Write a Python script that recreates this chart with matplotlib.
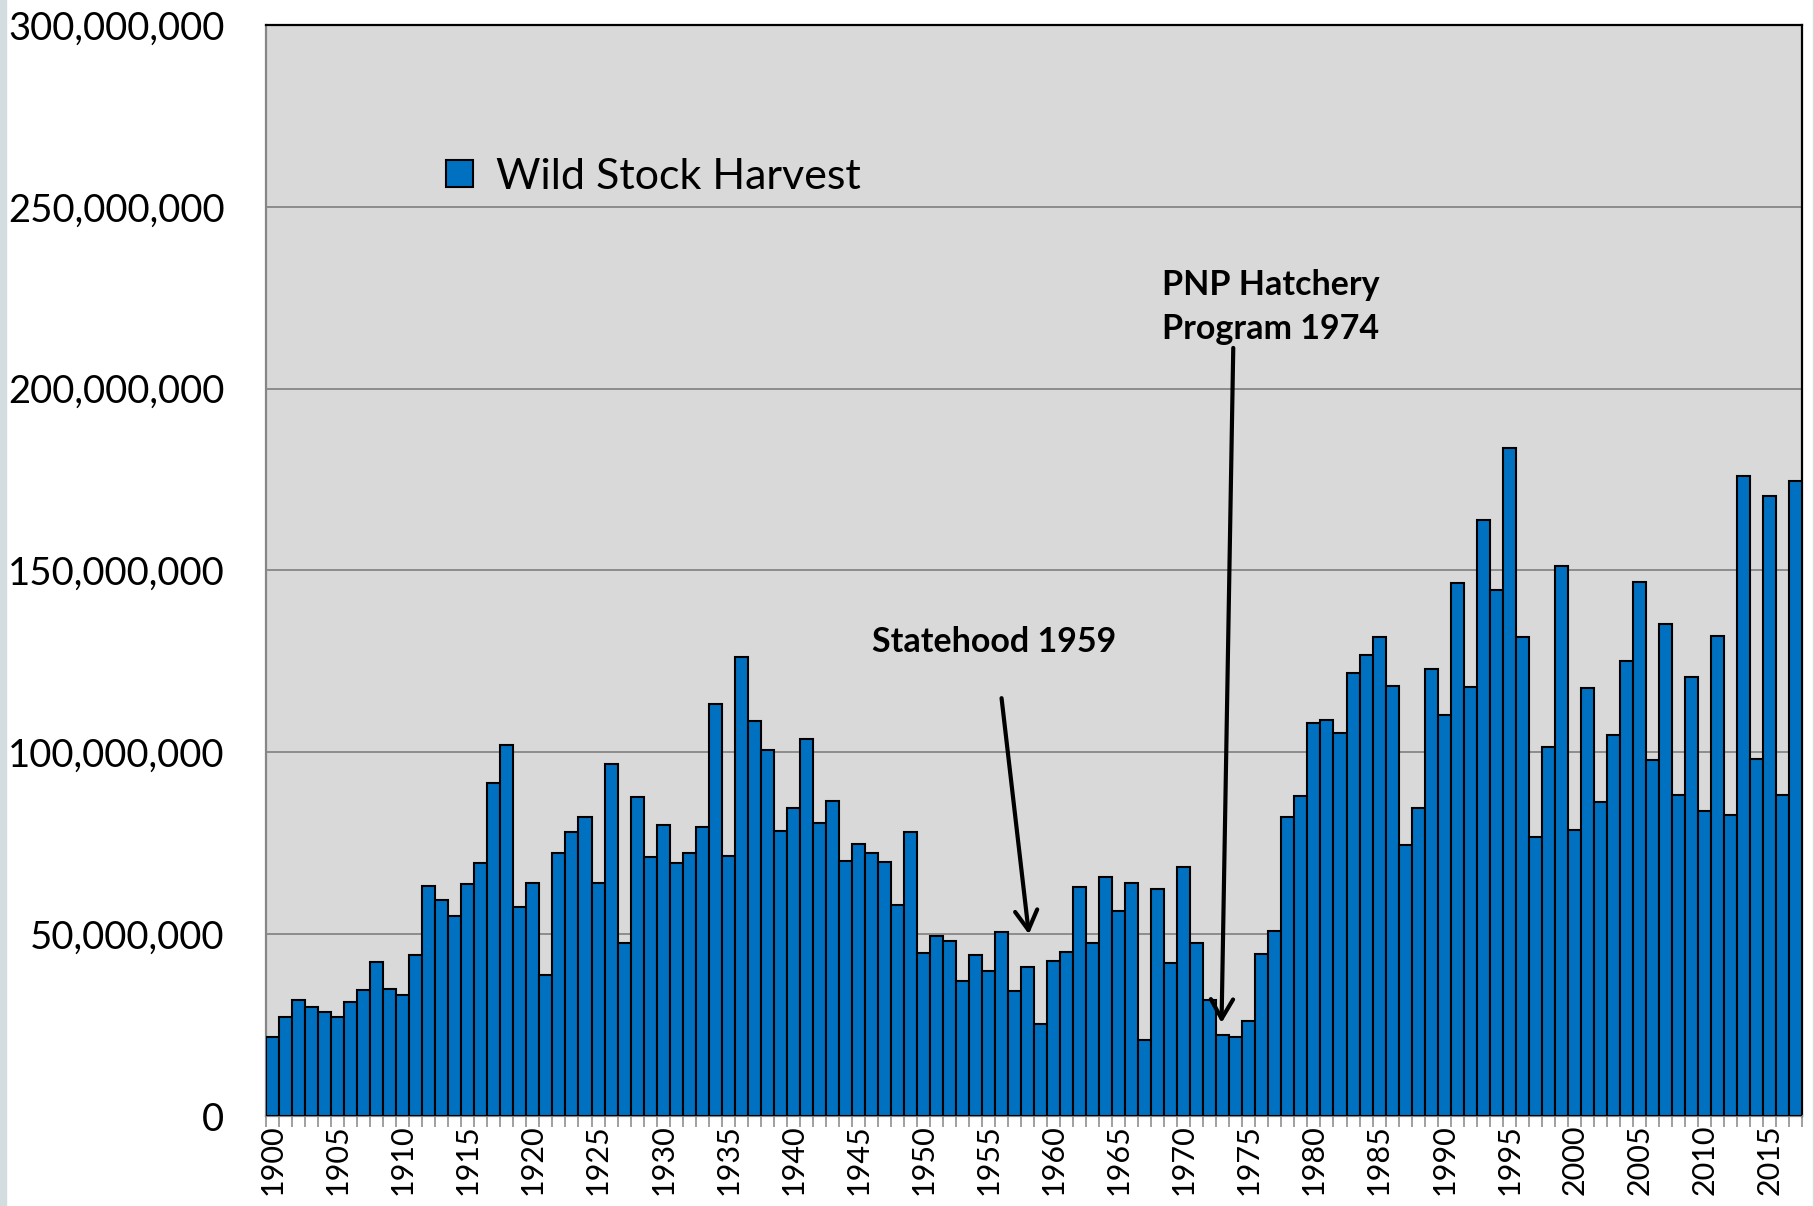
import matplotlib.pyplot as plt
import matplotlib.patches as mpatches
from matplotlib.ticker import FuncFormatter, MultipleLocator, FixedLocator

# Wild stock harvest per year, millions of fish
years = list(range(1900, 2018))
harvest_m = [
    21.6, 27.2, 31.8, 30.1, 28.6, 27.3, 31.4, 34.7, 42.3, 35.0,
    33.4, 44.4, 63.2, 59.3, 55.1, 63.7, 69.7, 91.5, 102.0, 57.4,
    64.1, 38.7, 72.4, 78.1, 82.3, 64.2, 96.9, 47.5, 87.7, 71.1,
    80.1, 69.7, 72.2, 79.6, 113.3, 71.6, 126.3, 108.7, 100.7, 78.4,
    84.7, 103.6, 80.7, 86.7, 70.1, 74.9, 72.4, 69.8, 58.1, 78.2,
    44.8, 49.5, 48.1, 37.2, 44.4, 39.8, 50.6, 34.5, 41.1, 25.2,
    42.6, 45.1, 62.9, 47.5, 65.8, 56.3, 64.0, 21.0, 62.3, 42.0,
    68.4, 47.5, 32.0, 22.3, 21.8, 26.2, 44.5, 50.8, 82.1, 88.0,
    108.0, 108.9, 105.3, 121.9, 126.8, 131.8, 118.3, 74.4, 84.7, 123.0,
    110.2, 146.6, 117.9, 163.9, 144.6, 183.8, 131.7, 76.8, 101.5, 151.2,
    78.6, 117.6, 86.4, 104.9, 125.1, 146.8, 97.8, 135.4, 88.3, 120.7,
    83.8, 132.1, 82.7, 176.0, 98.2, 170.5, 88.3, 174.7,
]
harvest = [v * 1e6 for v in harvest_m]
label_years = list(range(1900, 2016, 5))

plt.rcParams['font.family'] = ['Lato', 'DejaVu Sans']

fig = plt.figure(figsize=(18.15, 12.06), dpi=100)
ax = fig.add_axes([0.1466, 0.0746, 0.8463, 0.9047])

# thin grey strips at the picture edges
fig.patches.append(mpatches.Rectangle((0, 0), 6 / 1815, 1, transform=fig.transFigure,
                                      color='#d3dde0', zorder=0))
fig.patches.append(mpatches.Rectangle((1 - 2 / 1815, 0), 2 / 1815, 1, transform=fig.transFigure,
                                      color='#d3dde0', zorder=0))

ax.set_facecolor('#d9d9d9')
ax.bar(years, harvest, width=1.0, color='#0070c0', edgecolor='black', linewidth=1.5,
       label='Wild Stock Harvest', zorder=3)

ax.set_xlim(1899.5, 2017.5)
ax.set_ylim(0, 300e6)
ax.yaxis.set_major_locator(MultipleLocator(50e6))
ax.yaxis.set_major_formatter(FuncFormatter(lambda v, p: f'{v:,.0f}'))
ax.grid(axis='y', color='#8c8c8c', linewidth=1.4, zorder=1)
ax.set_axisbelow(True)

ax.xaxis.set_major_locator(FixedLocator(label_years))
ax.set_xticklabels([str(y) for y in label_years], rotation=90)
ax.xaxis.set_minor_locator(MultipleLocator(1, offset=0.5))
ax.tick_params(axis='x', which='major', length=0, pad=6, labelsize=22)
ax.tick_params(axis='x', which='minor', length=8, width=1.4, color='#a0a0a0')
ax.tick_params(axis='y', length=0, pad=30, labelsize=27.5)

for side in ['left', 'bottom']:
    ax.spines[side].set_color('#868686')
    ax.spines[side].set_linewidth(1.6)
for side in ['top', 'right']:
    ax.spines[side].set_color('black')
    ax.spines[side].set_linewidth(1.6)

ax.legend(loc='center left', bbox_to_anchor=(0.103, 0.861), frameon=False, fontsize=31,
          handlelength=0.62, handleheight=0.62, handletextpad=0.55, borderpad=0)

# annotations
arrow = dict(arrowstyle='->, head_length=0.7, head_width=0.4', mutation_scale=20,
             lw=3, color='black', shrinkA=0, shrinkB=0)
ax.text(1955.4, 130.3e6, 'Statehood 1959', ha='center', va='center',
        fontsize=24.5, fontweight='bold', zorder=5)
ax.annotate('', xy=(1958.1, 50e6), xytext=(1956.0, 114.9e6), arrowprops=arrow, zorder=5)

ax.text(1968.3, 222.5e6, 'PNP Hatchery\nProgram 1974', ha='left', va='center',
        fontsize=24.5, fontweight='bold', linespacing=1.45, zorder=5)
ax.annotate('', xy=(1972.9, 25.6e6), xytext=(1973.8, 211.2e6), arrowprops=arrow, zorder=5)

fig.savefig('out.png', dpi=100, facecolor='white')
